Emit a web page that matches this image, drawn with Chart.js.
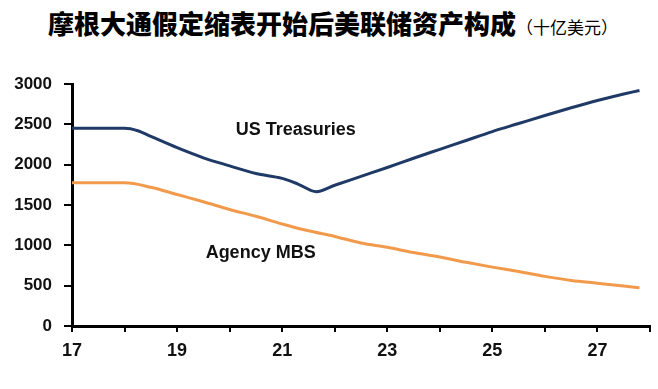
<!DOCTYPE html>
<html lang="zh">
<head>
    <meta charset="UTF-8">
    <title>摩根大通假定缩表开始后美联储资产构成</title>
    <script src="https://cdn.jsdelivr.net/npm/chart.js"></script>
    <style>
        html, body { margin: 0; padding: 0; background: #fff; }
        .wrap { position: relative; width: 658px; height: 389px; overflow: hidden; }
        .title {
            position: absolute; left: 4px; top: 6px; width: 658px; text-align: center;
            font-family: "Noto Sans CJK SC", sans-serif; font-weight: 900; font-size: 26px;
            color: #000; line-height: 34px; white-space: nowrap;
        }
        .title small { font-size: 17px; font-weight: 400; }
        canvas { position: absolute; left: 0; top: 0; }
    </style>
</head>
<body>
<div class="wrap">
    <div class="title">摩根大通假定缩表开始后美联储资产构成<small>（十亿美元）</small></div>
    <canvas id="fedChart" width="658" height="389"></canvas>
</div>

<script>
    // years (x) and values in billions USD
    const treasuryYears  = [17, 18, 18.25, 18.5, 19, 19.5, 20, 20.5, 21, 21.3, 21.65, 22, 22.5, 23, 23.5, 24, 24.5, 25, 25.5, 26, 26.5, 27, 27.5, 27.8];
    const treasuryValues = [2450, 2450, 2420, 2350, 2210, 2085, 1985, 1890, 1830, 1760, 1665, 1745, 1855, 1965, 2080, 2190, 2300, 2410, 2510, 2610, 2705, 2795, 2875, 2920];

    const mbsYears  = [17, 18, 18.5, 19, 19.5, 20, 20.5, 21, 21.5, 22, 22.5, 23, 23.5, 24, 24.5, 25, 25.5, 26, 26.5, 27, 27.5, 27.8];
    const mbsValues = [1775, 1775, 1720, 1630, 1540, 1445, 1360, 1265, 1180, 1110, 1030, 975, 910, 855, 790, 730, 675, 615, 565, 530, 495, 475];

    const seriesNames = ['US Treasuries', 'Agency MBS'];
    const yTicks = [0, 500, 1000, 1500, 2000, 2500, 3000];

    const toPoints = (xs, ys) => xs.map((x, i) => ({ x: x, y: ys[i] }));

    // series names written next to the lines
    const lineLabels = {
        id: 'lineLabels',
        afterDatasetsDraw(chart) {
            const ctx = chart.ctx;
            const xs = chart.scales.x, ys = chart.scales.y;
            const spots = [[21.26, 2428], [20.59, 906]];
            ctx.save();
            ctx.font = 'bold 18px "Liberation Sans", Arial, sans-serif';
            ctx.fillStyle = '#111';
            ctx.textAlign = 'center';
            ctx.textBaseline = 'middle';
            seriesNames.forEach((name, i) => {
                ctx.fillText(name, xs.getPixelForValue(spots[i][0]), ys.getPixelForValue(spots[i][1]));
            });
            ctx.restore();
        }
    };

    const tickFont = { family: '"Liberation Sans", Arial, sans-serif', size: 17, weight: 'bold' };

    const chartConfig = {
        type: 'line',
        data: {
            datasets: [{
                label: seriesNames[0],
                data: toPoints(treasuryYears, treasuryValues),
                borderColor: '#1f3a66',
                borderWidth: 3,
                pointRadius: 0,
                cubicInterpolationMode: 'monotone'
            }, {
                label: seriesNames[1],
                data: toPoints(mbsYears, mbsValues),
                borderColor: '#f29a4c',
                borderWidth: 3,
                pointRadius: 0,
                cubicInterpolationMode: 'monotone'
            }]
        },
        options: {
            responsive: false,
            animation: false,
            layout: { padding: { top: 84, right: 8, left: 0, bottom: 0 } },
            plugins: {
                legend: { display: false },
                tooltip: { enabled: false }
            },
            scales: {
                x: {
                    type: 'linear',
                    min: 17,
                    max: 28,
                    border: { color: '#000', width: 3 },
                    grid: { drawOnChartArea: false, drawTicks: true, tickLength: 6, color: '#000', lineWidth: 2 },
                    ticks: {
                        stepSize: 1,
                        autoSkip: false,
                        maxRotation: 0,
                        padding: 8,
                        color: '#111',
                        font: { family: '"Liberation Sans", Arial, sans-serif', size: 18, weight: 'bold' },
                        callback: v => (v % 2 === 1 ? String(v) : '')
                    },
                    afterFit: scale => { scale.height = 63; }
                },
                y: {
                    min: 0,
                    max: 3000,
                    border: { color: '#000', width: 3 },
                    grid: { drawOnChartArea: false, drawTicks: true, tickLength: 8, color: '#000', lineWidth: 2 },
                    afterBuildTicks: scale => { scale.ticks = yTicks.map(v => ({ value: v })); },
                    ticks: {
                        padding: 12,
                        color: '#111',
                        font: tickFont,
                        callback: v => String(v)
                    },
                    afterFit: scale => { scale.width = 72; }
                }
            }
        },
        plugins: [lineLabels]
    };

    new Chart(document.getElementById('fedChart').getContext('2d'), chartConfig);
</script>
</body>
</html>
